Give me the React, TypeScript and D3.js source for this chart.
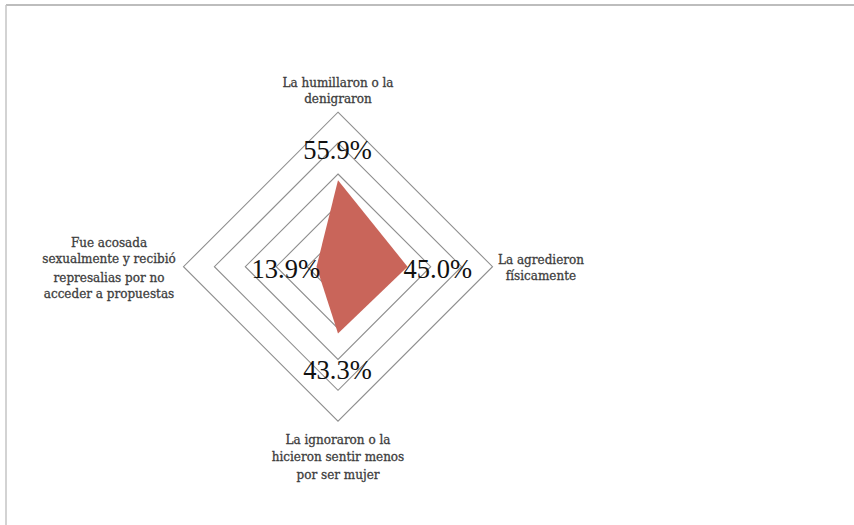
import React from "react";
import * as d3 from "d3";

const categories = [
  ["La humillaron o la", "denigraron"],
  ["La agredieron", "físicamente"],
  ["La ignoraron o la", "hicieron sentir menos", "por ser mujer"],
  ["Fue acosada", "sexualmente y recibió", "represalias por no", "acceder a propuestas"],
];
const values = [0.559, 0.45, 0.433, 0.139];
const valueLabels = ["55.9%", "45.0%", "43.3%", "13.9%"];
const ringTicks = [0.2, 0.4, 0.6, 0.8, 1.0];

const W = 854;
const H = 525;
const cx = 338;
const cy = 266.7;
const R = 154.5;

export default function App() {
  const r = d3.scaleLinear().domain([0, 1]).range([0, R]);
  const angle = (i: number) => (i * Math.PI) / 2;
  const ringLine = (t: number) =>
    d3
      .lineRadial<number>()
      .angle((_, i) => angle(i))
      .radius(() => r(t))
      .curve(d3.curveLinearClosed)(values) as string;
  const area = d3
    .lineRadial<number>()
    .angle((_, i) => angle(i))
    .radius((d) => r(d))
    .curve(d3.curveLinearClosed)(values) as string;

  const pt = (i: number, v: number) => {
    const a = angle(i);
    return [cx + r(v) * Math.sin(a), cy - r(v) * Math.cos(a)];
  };

  const catPos = [
    { x: 338, ys: [86.7, 102.7] },
    { x: 541, ys: [263.5, 280] },
    { x: 338, ys: [444, 461, 479] },
    { x: 109, ys: [247, 263, 282, 298] },
  ];

  const valLabel = (i: number) => {
    const [px, py] = pt(i, values[i]);
    if (i === 0) return { x: px - 0.5, y: py - 21, anchor: "middle" };
    if (i === 1) return { x: px - 4, y: cy + 11.5, anchor: "start" };
    if (i === 2) return { x: px - 0.5, y: py + 45, anchor: "middle" };
    return { x: px + 3.5, y: cy + 11.5, anchor: "end" };
  };

  return (
    <svg
      width={W}
      height={H}
      style={{ position: "absolute", left: 0, top: 0, background: "#fff" }}
    >
      <rect x={0} y={0} width={W} height={H} fill="#fff" />
      <line x1={6} y1={5} x2={W} y2={5} stroke="#bdbdbd" strokeWidth={2} />
      <line x1={6} y1={5} x2={6} y2={H} stroke="#c4c4c4" strokeWidth={1.5} />
      <g transform={`translate(${cx},${cy})`}>
        {ringTicks.map((t) => (
          <path key={t} d={ringLine(t)} fill="none" stroke="#8e8e8e" strokeWidth={1.1} />
        ))}
        <path d={area} fill="#c9655a" stroke="none" />
      </g>
      {valueLabels.map((lab, i) => {
        const p = valLabel(i);
        return (
          <text
            key={lab}
            x={p.x}
            y={p.y}
            textAnchor={p.anchor as any}
            fontFamily="'Liberation Serif', serif"
            fontSize={26.5}
            fill="#111"
          >
            {lab}
          </text>
        );
      })}
      {categories.map((lines, i) => (
        <text
          key={i}
          textAnchor="middle"
          fontFamily="'DejaVu Serif', serif"
          fontSize={12}
          fill="#3d3d3d"
          stroke="#3d3d3d"
          strokeWidth={0.3}
        >
          {lines.map((ln, j) => (
            <tspan key={j} x={catPos[i].x} y={catPos[i].ys[j]}>
              {ln}
            </tspan>
          ))}
        </text>
      ))}
    </svg>
  );
}
